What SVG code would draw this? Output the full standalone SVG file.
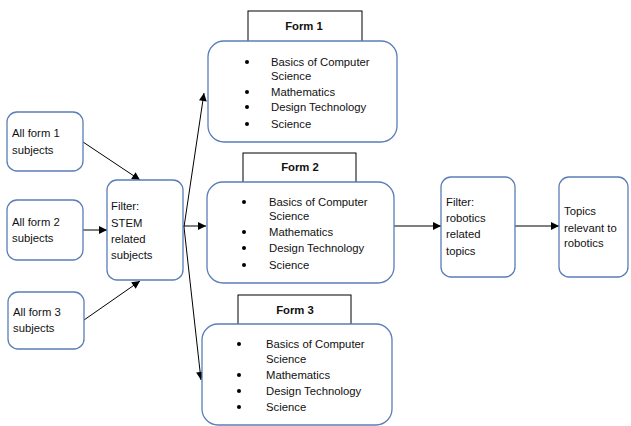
<svg xmlns="http://www.w3.org/2000/svg" width="631" height="426" viewBox="0 0 631 426">
<style>
.n{fill:#fff;stroke:#5a7db8;stroke-width:1.3}
.lb{fill:#fff;stroke:#000;stroke-width:1}
text{font-family:"Liberation Sans",Arial,sans-serif;font-size:11.3px;fill:#111}
.b{font-weight:bold;text-anchor:middle}
.c{stroke:#000;stroke-width:1;fill:none;marker-end:url(#ah)}
.d{fill:#000}
</style>
<defs>
<marker id="ah" viewBox="0 0 10 10" refX="10" refY="5" markerWidth="9" markerHeight="8" markerUnits="userSpaceOnUse" orient="auto"><path d="M0,0L10,5L0,10z" fill="#000"/></marker>
</defs>
<rect width="631" height="426" fill="#fff"/>
<g id="connectors">
<line class="c" x1="83" y1="142" x2="140" y2="180"/>
<line class="c" x1="83" y1="230" x2="107" y2="230"/>
<line class="c" x1="84" y1="320" x2="140" y2="281"/>
<line class="c" x1="183" y1="226" x2="206" y2="226"/>
<line class="c" x1="184" y1="227" x2="204" y2="93"/>
<line class="c" x1="184" y1="227" x2="201" y2="380"/>
<line class="c" x1="394" y1="226" x2="441" y2="226"/>
<line class="c" x1="515" y1="226" x2="559" y2="226"/>
</g>
<g id="all1"><rect class="n" x="7" y="112" width="76" height="59" rx="10"/><text x="12" y="137">All form 1</text><text x="12" y="154">subjects</text></g>
<g id="all2"><rect class="n" x="7" y="200" width="76" height="60" rx="10"/><text x="12" y="226">All form 2</text><text x="12" y="242">subjects</text></g>
<g id="all3"><rect class="n" x="8" y="292" width="76" height="57" rx="10"/><text x="13" y="316">All form 3</text><text x="13" y="332">subjects</text></g>
<g id="stem"><rect class="n" x="107" y="180" width="76" height="100" rx="10"/><text x="111" y="210">Filter:</text><text x="111" y="227">STEM</text><text x="111" y="243">related</text><text x="111" y="259">subjects</text></g>
<g id="form1">
<rect class="lb" x="248" y="11" width="114" height="32"/><text class="b" x="304" y="30">Form 1</text>
<rect class="n" x="208" y="41" width="189" height="101" rx="16"/>
<circle class="d" cx="247" cy="62" r="2"/><circle class="d" cx="247" cy="92" r="2"/><circle class="d" cx="247" cy="107" r="2"/><circle class="d" cx="247" cy="124" r="2"/>
<text x="271" y="66">Basics of Computer</text><text x="271" y="80">Science</text><text x="271" y="96">Mathematics</text><text x="271" y="111">Design Technology</text><text x="271" y="128">Science</text>
</g>
<g id="form2">
<rect class="lb" x="243" y="153" width="113" height="31"/><text class="b" x="300" y="171">Form 2</text>
<rect class="n" x="207" y="182" width="187" height="101" rx="16"/>
<circle class="d" cx="244" cy="202" r="2"/><circle class="d" cx="244" cy="232" r="2"/><circle class="d" cx="244" cy="248" r="2"/><circle class="d" cx="244" cy="265" r="2"/>
<text x="269" y="206">Basics of Computer</text><text x="269" y="220">Science</text><text x="269" y="236">Mathematics</text><text x="269" y="252">Design Technology</text><text x="269" y="269">Science</text>
</g>
<g id="form3">
<rect class="lb" x="238" y="295" width="113" height="31"/><text class="b" x="295" y="314">Form 3</text>
<rect class="n" x="202" y="324" width="190" height="101" rx="16"/>
<circle class="d" cx="239" cy="344" r="2"/><circle class="d" cx="239" cy="375" r="2"/><circle class="d" cx="239" cy="391" r="2"/><circle class="d" cx="239" cy="407" r="2"/>
<text x="266" y="348">Basics of Computer</text><text x="266" y="363">Science</text><text x="266" y="379">Mathematics</text><text x="266" y="395">Design Technology</text><text x="266" y="411">Science</text>
</g>
<g id="robotics"><rect class="n" x="441" y="177" width="74" height="100" rx="10"/><text x="446" y="206">Filter:</text><text x="446" y="222">robotics</text><text x="446" y="238">related</text><text x="446" y="255">topics</text></g>
<g id="topics"><rect class="n" x="559" y="177" width="69" height="100" rx="10"/><text x="564" y="215">Topics</text><text x="564" y="232">relevant to</text><text x="564" y="247">robotics</text></g>
</svg>
